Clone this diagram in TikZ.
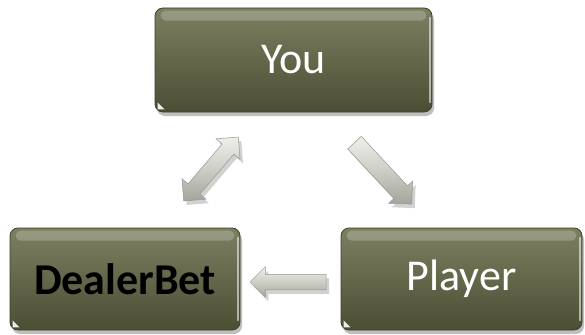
\documentclass[tikz,border=0pt]{standalone}
\usepackage{fontspec}
\setmainfont{Carlito}
\usetikzlibrary{shapes.arrows,shadows,calc}
\definecolor{boxtop}{HTML}{7C7F60}
\definecolor{boxbot}{HTML}{4B4E33}
\definecolor{boxedge}{HTML}{3E4029}
\definecolor{arrlight}{HTML}{EFEFE9}
\definecolor{arrmid}{HTML}{CDCEC6}
\definecolor{arrdark}{HTML}{A3A49B}
\definecolor{arredge}{HTML}{969790}
\begin{document}
\begin{tikzpicture}[x=1pt,y=-1pt,
  box/.style={rounded corners=8pt, top color=boxtop, bottom color=boxbot,
    draw=boxedge, line width=0.8pt, inner sep=0pt,
    font=\fontsize{44}{48}\selectfont, text=white,
    drop shadow={shadow xshift=2pt, shadow yshift=-4pt, opacity=0.25, fill=black}},
  blockarrow/.style={draw=arredge, line width=0.5pt, inner xsep=0pt,
    top color=arrlight, bottom color=arrdark, middle color=arrmid,
    drop shadow={shadow xshift=3pt, shadow yshift=-4pt, opacity=0.18, fill=black}},
  gloss/.style={fill=white, opacity=0.22, rounded corners=5pt}]
\useasboundingbox (0,0) rectangle (585,334);
\fill[white] (0,0) rectangle (585,334);
\node[box, minimum width=277pt, minimum height=104pt] (you) at (293.5,60) {You};
\node[box, minimum width=230pt, minimum height=102pt, text=black, font=\fontsize{44}{48}\selectfont\bfseries] (dealer) at (125,279) {DealerBet};
\node[box, minimum width=241pt, minimum height=102pt] (player) at (461.5,279) {Player};
\foreach \n in {you,dealer,player}{
  \fill[gloss] ($(\n.north west)+(6,3)$) rectangle ($(\n.north east)+(-6,13)$);
  \draw[white, opacity=0.55, line width=1.2pt, line cap=round] ($(\n.north east)+(-2.5,10)$) -- ($(\n.south east)+(-2.5,-10)$);
  \fill[white, opacity=0.9] ($(\n.south west)+(3,-3)$) -- ($(\n.south west)+(3,-10)$) -- ($(\n.south west)+(10,-3)$) -- cycle;
}
\node[double arrow, blockarrow, inner ysep=7.5pt, minimum height=84pt,
  double arrow head extend=8pt, double arrow head indent=0pt, rotate=49.5] (a1) at (211,169) {};
\node[single arrow, blockarrow, inner ysep=9pt, minimum height=84pt,
  single arrow head extend=7pt, single arrow head indent=0pt, rotate=-47] (a2) at (380,170) {};
\node[single arrow, blockarrow, inner ysep=7.5pt, minimum height=76pt,
  single arrow head extend=7.5pt, single arrow head indent=0pt, rotate=180] (a3) at (292,282) {};
\end{tikzpicture}
\end{document}
